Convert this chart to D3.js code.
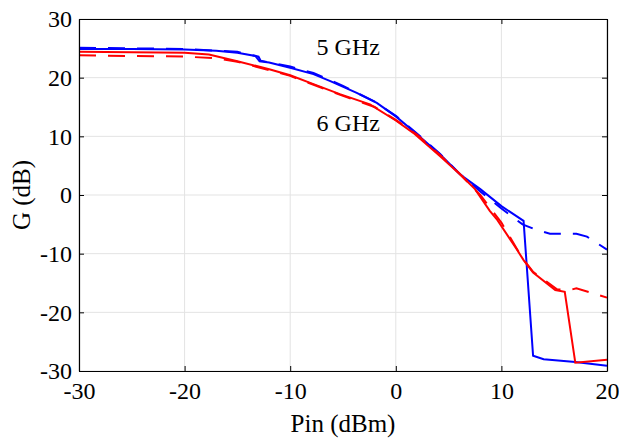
<!DOCTYPE html>
<html>
<head>
<meta charset="utf-8">
<script src="https://cdn.jsdelivr.net/npm/d3@7"></script>
</head>
<body style="margin:0">
<svg width="619" height="438"></svg>
<script>
// data
let xTicks = [-30, -20, -10, 0, 10, 20];
let yTicks = [-30, -20, -10, 0, 10, 20, 30];

let pin5 = [-30, -25, -20, -17, -15, -13.3, -12.9, -12, -10, -7.8, -6.2, -3.7, -1.8, 0, 1.65, 4.2, 6.1, 8, 10, 12.1, 13, 14, 17, 20];
let g5 = [24.9, 24.9, 24.8, 24.6, 24.25, 23.7, 22.8, 22.6, 21.7, 20.6, 19.4, 17.4, 15.7, 13.4, 10.9, 6.9, 3.5, 1.0, -1.9, -4.4, -27.4, -28.0, -28.45, -29.1];

let pin5d = [-30, -20, -15, -13, -12.8, -10, -7.8, -5, -2, 0, 2, 4.2, 6, 8, 10, 12, 13.4, 14.6, 17.1, 18.1, 20];
let g5d = [25.1, 24.9, 24.4, 23.6, 22.9, 21.9, 20.8, 18.6, 15.9, 13.5, 10.5, 7.0, 3.7, 0.6, -2.3, -5.0, -6.0, -6.6, -6.6, -7.1, -9.3];

let pin6 = [-30, -25, -20, -17.7, -15, -11.9, -10, -7.8, -5.3, -2.45, 0, 1.65, 4.2, 6.1, 7.5, 8.9, 9.55, 11.45, 12.1, 13, 15.1, 16, 17, 20];
let g6 = [24.4, 24.35, 24.25, 23.95, 22.8, 21.4, 20.4, 18.9, 17.2, 15.45, 12.7, 10.6, 6.6, 3.5, 1.0, -2.7, -4.1, -9.25, -11.1, -13.2, -16.2, -16.5, -28.6, -28.1];

let pin6d = [-30, -20, -17, -15, -12, -10, -5, -2, 0, 2, 4.2, 6, 8, 9.4, 10, 12, 13, 15.3, 16.5, 17.1, 20];
let g6d = [23.8, 23.6, 23.3, 22.7, 21.3, 20.3, 16.9, 15.0, 12.8, 10.3, 6.8, 3.7, 0.0, -3.3, -4.7, -10.8, -13.1, -16.1, -16.2, -15.9, -17.5];

let font = "Liberation Serif";

let svg = d3.select("svg");
let margin = { top: 19, right: 12, bottom: 67, left: 79 };
let width = 619 - margin.left - margin.right;
let height = 438 - margin.top - margin.bottom;

let x = d3.scaleLinear().domain([-30, 20]).range([0, width]);
let y = d3.scaleLinear().domain([-30, 30]).range([height, 0]);

let g = svg.append("g").attr("transform", `translate(${margin.left},${margin.top})`);

// grid
g.append("g")
  .selectAll("line")
  .data(xTicks)
  .enter()
  .append("line")
  .attr("x1", d => x(d)).attr("x2", d => x(d))
  .attr("y1", 0).attr("y2", height)
  .attr("stroke", "#e3e3e3");

g.append("g")
  .selectAll("line")
  .data(yTicks)
  .enter()
  .append("line")
  .attr("y1", d => y(d)).attr("y2", d => y(d))
  .attr("x1", 0).attr("x2", width)
  .attr("stroke", "#e3e3e3");

// curves
let series = [
  { xs: pin5, ys: g5, color: "#0000ff", dash: null },
  { xs: pin5d, ys: g5d, color: "#0000ff", dash: "17,12" },
  { xs: pin6, ys: g6, color: "#ff0000", dash: null },
  { xs: pin6d, ys: g6d, color: "#ff0000", dash: "17,12" }
];

let line = d3.line().x(d => x(d[0])).y(d => y(d[1]));

g.selectAll(".curve")
  .data(series)
  .enter()
  .append("path")
  .attr("class", "curve")
  .attr("d", s => line(s.xs.map((v, i) => [v, s.ys[i]])))
  .attr("fill", "none")
  .attr("stroke", s => s.color)
  .attr("stroke-width", 2)
  .attr("stroke-dasharray", s => s.dash);

// axes, ticks inward on all four sides
let fmt = d => String(d);
let axBottom = g.append("g").attr("transform", `translate(0,${height})`)
  .call(d3.axisBottom(x).tickValues(xTicks).tickSizeInner(-5).tickSizeOuter(0).tickPadding(11).tickFormat(fmt));
let axTop = g.append("g")
  .call(d3.axisTop(x).tickValues(xTicks).tickSizeInner(-5).tickSizeOuter(0).tickFormat(""));
let axLeft = g.append("g")
  .call(d3.axisLeft(y).tickValues(yTicks).tickSizeInner(-5).tickSizeOuter(0).tickPadding(7).tickFormat(fmt));
let axRight = g.append("g").attr("transform", `translate(${width},0)`)
  .call(d3.axisRight(y).tickValues(yTicks).tickSizeInner(-5).tickSizeOuter(0).tickFormat(""));

[axBottom, axTop, axLeft, axRight].forEach(a => {
  a.attr("font-family", font).attr("font-size", 24);
  a.select(".domain").attr("stroke", "#000").attr("stroke-width", 1.2);
  a.selectAll(".tick line").attr("stroke", "#000");
  a.selectAll(".tick text")
    .attr("fill", "#000")
    .attr("font-family", font)
    .style("font-family", font);
});

// labels
let label = (px, py, txt, rot) => svg.append("text")
  .attr("transform", `translate(${px},${py})` + (rot ? " rotate(-90)" : ""))
  .attr("font-family", font)
  .style("font-family", font)
  .attr("font-size", 25)
  .attr("fill", "#000")
  .text(txt);

label(margin.left + width / 2, 432, "Pin (dBm)").attr("text-anchor", "middle");
label(30, margin.top + height / 2, "G (dB)", true).attr("text-anchor", "middle");
label(margin.left + x(-7.5), 55, "5 GHz").attr("font-size", 24);
label(margin.left + x(-7.5), 131, "6 GHz").attr("font-size", 24);
</script>
</body>
</html>
